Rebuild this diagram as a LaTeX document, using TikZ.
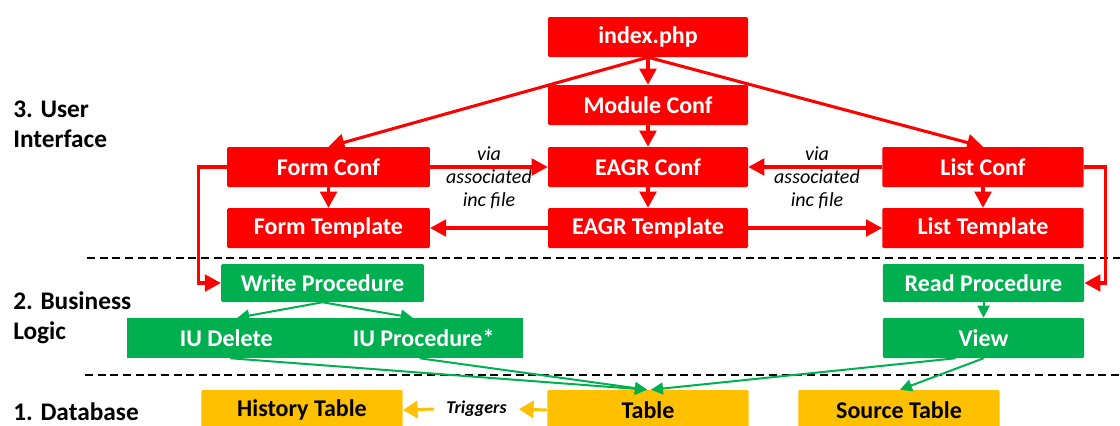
\documentclass[tikz,border=0pt]{standalone}
\usepackage{fontspec}
\setmainfont{Carlito}
\usetikzlibrary{arrows.meta,calc}
\definecolor{uired}{HTML}{FF0000}
\definecolor{blgreen}{HTML}{00B050}
\definecolor{dbgold}{HTML}{FFC000}

\begin{document}
\begin{tikzpicture}[x=0.75pt,y=-0.75pt,
  box/.style={rectangle, rounded corners=1pt, inner sep=0pt,
    font=\fontsize{18}{20}\selectfont\bfseries, minimum height=30pt},
  redbox/.style={box, fill=uired, text=white, minimum width=150pt},
  greenbox/.style={box, fill=blgreen, text=white},
  goldbox/.style={box, fill=dbgold, text=black, minimum width=151pt},
  redarrow/.style={draw=uired, line width=2.3pt, line join=miter,
    -{Triangle[length=12pt,width=12.5pt]}},
  greenarrow/.style={draw=blgreen, line width=1.5pt,
    -{Triangle[length=9pt,width=9pt]}},
  goldarrow/.style={draw=dbgold, line width=2.2pt,
    -{Triangle[length=11pt,width=13pt]}},
  layer/.style={anchor=west, align=left, inner sep=0pt,
    font=\fontsize{19}{22.5}\selectfont\bfseries},
  vianote/.style={align=center, font=\fontsize{15}{17.3}\selectfont\itshape},
  divider/.style={draw=black, line width=1.9pt, dash pattern=on 6pt off 3.5pt}
]
\useasboundingbox (0,0) rectangle (1120,425);

% layer separators
\draw[divider] (87,258) -- (1120,258);
\draw[divider] (85,375) -- (1120,375);

% layer labels
\node[layer] (lui) at (13,124) {3. User\\Interface};
\node[layer] (lbl) at (13,318) {2. Business\\Logic};
\node[layer] (ldb) at (13,412) {1. Database};

% user interface
\node[redbox] (index)   at (648,37)  {index.php};
\node[redbox] (module)  at (648,105) {Module Conf};
\node[redbox] (eagrc)   at (648,167) {EAGR Conf};
\node[redbox] (eagrt)   at (648,228) {EAGR Template};
\node[redbox, minimum width=152pt] (formc) at (328.5,167) {Form Conf};
\node[redbox, minimum width=152pt] (formt) at (328.5,228) {Form Template};
\node[redbox, minimum width=151pt] (listc) at (983,167) {List Conf};
\node[redbox, minimum width=151pt] (listt) at (983,228) {List Template};

% business logic
\node[greenbox, minimum width=152pt, minimum height=28.5pt] (write) at (322.5,283) {Write Procedure};
\node[greenbox, sharp corners, minimum width=149pt] (iudel)  at (226.3,338) {IU Delete};
\node[greenbox, sharp corners, minimum width=149pt] (iuproc) at (423.7,338) {IU Procedure*};
\node[greenbox, minimum width=151pt, minimum height=28.5pt] (read) at (983.5,283) {Read Procedure};
\node[greenbox, minimum width=151pt] (view) at (983.5,338) {View};

% database
\node[goldbox] (history) at (302,410) {History Table};
\node[goldbox] (table)   at (648,410) {Table};
\node[goldbox] (source)  at (899,410) {Source Table};

% inc-file notes
\node[vianote] (via1) at (489,178) {via\\associated\\inc file};
\node[vianote] (via2) at (817,178) {via\\associated\\inc file};

% trigger note
\node[inner xsep=9pt, inner ysep=2pt, font=\fontsize{13.5}{15}\selectfont\bfseries\itshape]
  (trig) at (476.5,409) {Triggers};

% red connectors
\draw[redarrow] (index.south) -- (module.north);
\draw[redarrow] (index.south) -- (formc.north);
\draw[redarrow] (index.south) -- (listc.north);
\draw[redarrow] (module.south) -- (eagrc.north);
\draw[redarrow] (formc.east) -- (eagrc.west);
\draw[redarrow] (listc.west) -- (eagrc.east);
\draw[redarrow] (formc.south) -- (formt.north);
\draw[redarrow] (eagrc.south) -- (eagrt.north);
\draw[redarrow] (listc.south) -- (listt.north);
\draw[redarrow] (eagrt.west) -- (formt.east);
\draw[redarrow] (eagrt.east) -- (listt.west);
\draw[redarrow] (formc.west) -- ++(-28,0) |- (write.west);
\draw[redarrow] (listc.east) -- ++(22,0) |- (read.east);

% green connectors
\draw[greenarrow] (write.south) -- ($(iudel.north)+(11,0)$);
\draw[greenarrow] (write.south) -- ($(iuproc.north)+(-11,0)$);
\draw[greenarrow] (read.south) -- (view.north);
\draw[greenarrow] ($(iudel.south)+(4,0)$) -- ($(table.north)+(-1,0)$);
\draw[greenarrow] ($(iuproc.south)+(-4,0)$) -- ($(table.north)+(-1,0)$);
\draw[greenarrow] ($(view.south)+(-28,0)$) -- ($(table.north)+(3,0)$);
\draw[greenarrow] (view.south) -- ($(source.north)+(1,0)$);

% trigger connectors
\draw[goldarrow] (table.west) -- (trig.east);
\draw[goldarrow] (trig.west) -- (history.east);
\end{tikzpicture}
\end{document}
